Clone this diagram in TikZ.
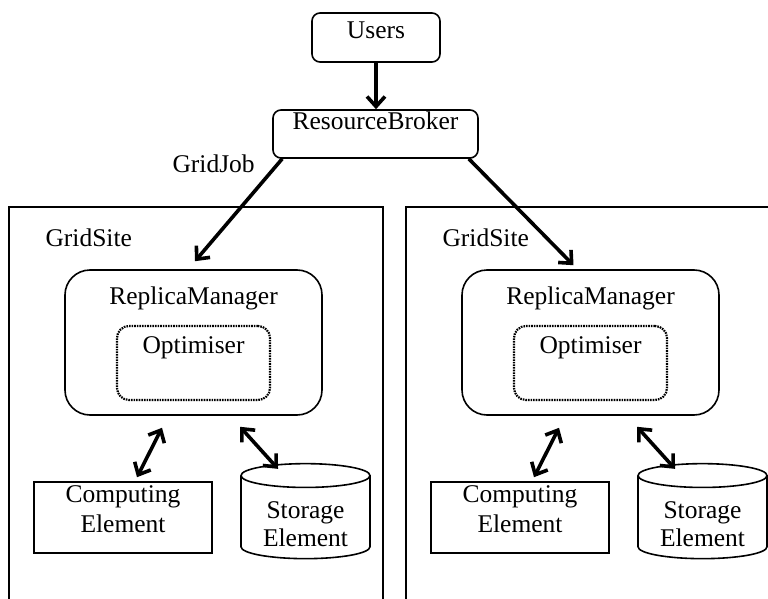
\documentclass[tikz,border=0pt]{standalone}
\usepackage{fontspec}
\setmainfont{Liberation Serif}
\usetikzlibrary{arrows.meta,shapes.geometric}

\begin{document}
\begin{tikzpicture}[x=1pt,y=-1pt,
			font=\fontsize{25.5}{30}\selectfont,
			box/.style={draw,line width=1.6pt,rounded corners=8pt,inner sep=0pt},
			site/.style={draw,line width=2pt},
			optbox/.style={draw,line width=2.2pt,dash pattern=on 1.6pt off 1pt,rounded corners=12pt,inner sep=0pt},
			barb/.tip={Straight Barb[length=10pt,width=18pt]},
			arr/.style={line width=3.6pt,-barb},
			dbl/.style={line width=3.6pt,barb-barb}]
			\useasboundingbox (0,0) rectangle (768,599);
			\clip (0,0) rectangle (768,599);
			\node[box,minimum width=128pt,minimum height=49pt,text height=17pt,text depth=14pt] (users) at (376,37.5) {Users};
			\node[box,minimum width=205pt,minimum height=48pt,text height=17pt,text depth=25pt] (rb) at (375.5,134) {ResourceBroker};
			\node[anchor=base west] (gridjob) at (169,172) {GridJob};
			\draw[arr] (users.south) -- (users.south|-rb.north);
			\foreach \dx/\s in {0/a,397/b}{
				\draw[site] (9+\dx,207) rectangle (383+\dx,640);
				\node[anchor=base west] (gs\s) at (42+\dx,246) {GridSite};
				\node[box,rounded corners=25pt,minimum width=257pt,minimum height=145pt] (rm\s) at (193.5+\dx,342.5) {};
				\node[anchor=north,inner sep=0pt] (rml\s) at ([yshift=-17.5pt]rm\s.north) {ReplicaManager};
				\node[optbox,minimum width=153pt,minimum height=74pt] (opt\s) at (193.5+\dx,363) {};
				\node[anchor=north,inner sep=0pt] (optl\s) at ([yshift=-12pt]opt\s.north) {Optimiser};
				\node[draw,line width=1.6pt,minimum width=178pt,minimum height=71pt,inner sep=0pt,align=center,text depth=17pt] (ce\s) at (123+\dx,517.5) {Computing\\Element};
				\node[draw,line width=1.6pt,cylinder,shape border rotate=90,aspect=0.28,minimum width=129pt,minimum height=95pt,inner sep=0pt,align=center,text height=58pt] (se\s) at (305.5+\dx,517.5) {Storage\\[-2pt]Element};
				\draw[dbl] ([xshift=14pt,yshift=4pt]ce\s.north) -- ([xshift=-31.5pt,yshift=-12pt]rm\s.south);
				\draw[dbl] ([xshift=-27.5pt,yshift=-6pt]se\s.north) -- ([xshift=46.5pt,yshift=-11pt]rm\s.south);
			}
			\draw[arr] ([xshift=10pt]rb.south west) -- ([xshift=1.5pt,yshift=8pt]rma.north);
			\draw[arr] ([xshift=-10pt]rb.south east) -- ([xshift=-17pt,yshift=4pt]rmb.north);
			\end{tikzpicture}
\end{document}
